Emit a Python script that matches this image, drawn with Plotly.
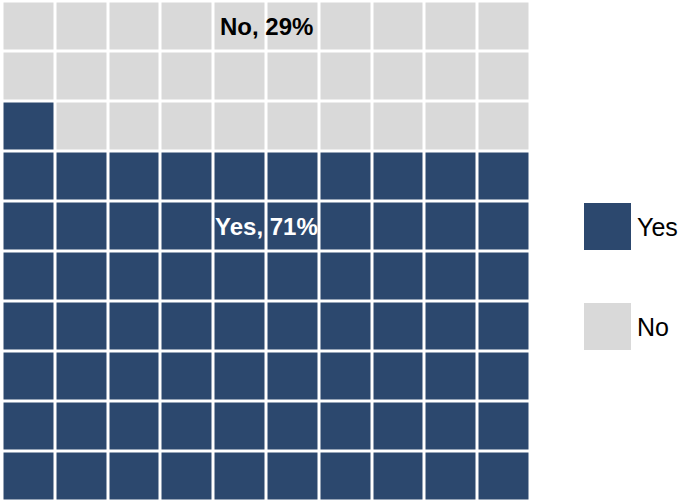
import plotly.graph_objects as go

categories = ["Yes", "No"]
values = [71, 29]
colors = ["#2c486e", "#d9d9d9"]
n_cols = 10
n_rows = 10

# Build waffle grid: fill from bottom-left, row by row
cells = []
for i, v in enumerate(values):
    cells += [i] * v
z = [[None] * n_cols for _ in range(n_rows)]
for k, c in enumerate(cells):
    r, col = divmod(k, n_cols)
    z[r][col] = c

colorscale = [[0, colors[0]], [0.5, colors[0]], [0.5, colors[1]], [1, colors[1]]]

W, H = 686, 502
fig = go.Figure()
fig.add_trace(go.Heatmap(
    z=z, x=list(range(n_cols)), y=list(range(n_rows)),
    zmin=0, zmax=1, colorscale=colorscale, showscale=False,
    xgap=3, ygap=3, hoverinfo="skip",
    xaxis="x", yaxis="y",
))

# Legend drawn as a separate small subplot
leg_idx = list(range(len(categories)))
fig.add_trace(go.Scatter(
    x=[0] * len(categories), y=leg_idx, mode="markers",
    marker=dict(symbol="square", size=47, color=colors, line=dict(width=0)),
    xaxis="x2", yaxis="y2", hoverinfo="skip", showlegend=False,
))

annotations = []
for i, c in enumerate(categories):
    annotations.append(dict(
        x=27.5, y=i, xref="x2", yref="y2", text=c, showarrow=False,
        xanchor="left", yanchor="middle",
        font=dict(family="Liberation Sans, Arial", size=25, color="black"),
    ))

# Data labels on the waffle
label_rows = [5, 9]
label_colors = ["white", "black"]
for i, c in enumerate(categories):
    annotations.append(dict(
        x=(n_cols - 1) / 2, y=label_rows[i], xref="x", yref="y",
        text=f"<b>{c}, {values[i]}%</b>", showarrow=False,
        xanchor="center", yanchor="middle",
        font=dict(family="Liberation Sans, Arial", size=24, color=label_colors[i]),
    ))

fig.update_layout(
    width=W, height=H,
    margin=dict(l=0, r=0, t=0, b=0),
    paper_bgcolor="white", plot_bgcolor="white",
    showlegend=False,
    xaxis=dict(domain=[2.5 / W, 530.5 / W], range=[-0.5, n_cols - 0.5],
               visible=False, fixedrange=True),
    yaxis=dict(domain=[0.5 / H, 500.5 / H], range=[-0.5, n_rows - 0.5],
               visible=False, fixedrange=True),
    xaxis2=dict(domain=[560 / W, 1], range=[-47.5, 78.5], visible=False),
    yaxis2=dict(domain=[0, 1], range=[2.755, -2.265], visible=False, anchor="x2"),
    annotations=annotations,
)

fig.write_html(
    "out.html",
    config={"displayModeBar": False},
    post_script="document.body.style.margin='0';document.body.style.overflow='hidden';",
)
